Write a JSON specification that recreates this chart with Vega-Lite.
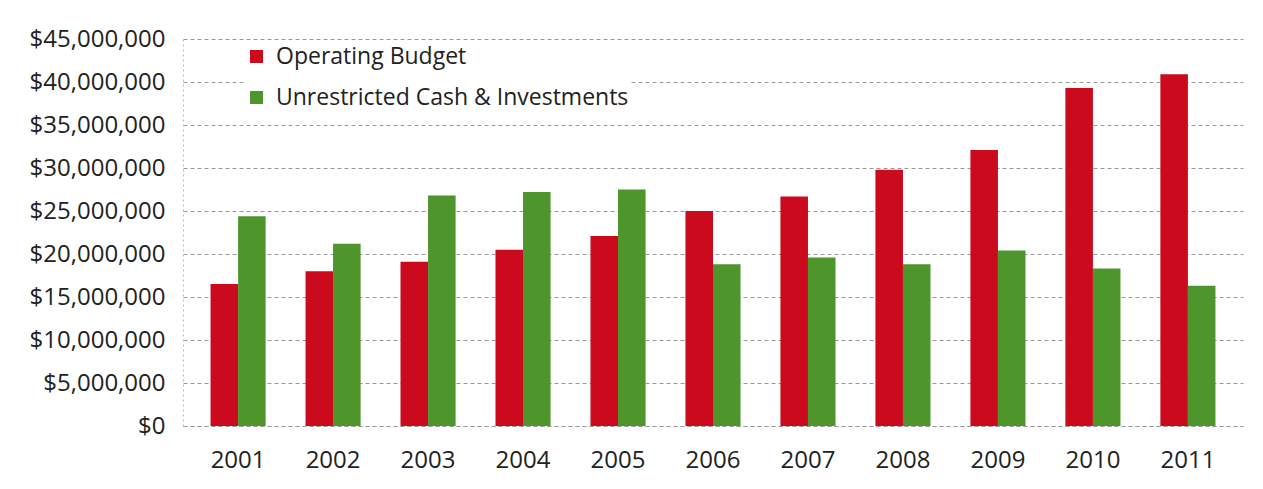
{
  "$schema": "https://vega.github.io/schema/vega-lite/v6.json",
  "width": 1060,
  "height": 387,
  "autosize": {"type": "none"},
  "padding": {"left": 183, "top": 39, "right": 20, "bottom": 63},
  "background": "white",
  "config": {"view": {"stroke": null}, "font": "Open Sans"},
  "data": {
    "values": [
      {"year": "2001", "series": "Operating Budget", "value": 16500000},
      {"year": "2001", "series": "Unrestricted Cash & Investments", "value": 24400000},
      {"year": "2002", "series": "Operating Budget", "value": 18000000},
      {"year": "2002", "series": "Unrestricted Cash & Investments", "value": 21200000},
      {"year": "2003", "series": "Operating Budget", "value": 19100000},
      {"year": "2003", "series": "Unrestricted Cash & Investments", "value": 26800000},
      {"year": "2004", "series": "Operating Budget", "value": 20500000},
      {"year": "2004", "series": "Unrestricted Cash & Investments", "value": 27200000},
      {"year": "2005", "series": "Operating Budget", "value": 22100000},
      {"year": "2005", "series": "Unrestricted Cash & Investments", "value": 27500000},
      {"year": "2006", "series": "Operating Budget", "value": 25000000},
      {"year": "2006", "series": "Unrestricted Cash & Investments", "value": 18800000},
      {"year": "2007", "series": "Operating Budget", "value": 26700000},
      {"year": "2007", "series": "Unrestricted Cash & Investments", "value": 19600000},
      {"year": "2008", "series": "Operating Budget", "value": 29800000},
      {"year": "2008", "series": "Unrestricted Cash & Investments", "value": 18800000},
      {"year": "2009", "series": "Operating Budget", "value": 32100000},
      {"year": "2009", "series": "Unrestricted Cash & Investments", "value": 20400000},
      {"year": "2010", "series": "Operating Budget", "value": 39300000},
      {"year": "2010", "series": "Unrestricted Cash & Investments", "value": 18300000},
      {"year": "2011", "series": "Operating Budget", "value": 40900000},
      {"year": "2011", "series": "Unrestricted Cash & Investments", "value": 16300000}
    ]
  },
  "mark": {"type": "bar"},
  "encoding": {
    "x": {
      "field": "year",
      "type": "nominal",
      "title": null,
      "scale": {"paddingInner": 0.42, "paddingOuter": 0.29},
      "axis": {
        "labelAngle": 0,
        "labelFontSize": 24,
        "labelColor": "#222",
        "labelPadding": 22,
        "ticks": false,
        "domain": true,
        "domainColor": "#999",
        "domainDash": [4, 3],
        "grid": false
      }
    },
    "xOffset": {"field": "series", "type": "nominal", "sort": ["Operating Budget", "Unrestricted Cash & Investments"]},
    "y": {
      "field": "value",
      "type": "quantitative",
      "title": null,
      "scale": {"domain": [0, 45000000], "nice": false},
      "axis": {
        "values": [0, 5000000, 10000000, 15000000, 20000000, 25000000, 30000000, 35000000, 40000000, 45000000],
        "format": "$,.0f",
        "labelFontSize": 24,
        "labelColor": "#222",
        "labelPadding": 18,
        "labelLimit": 300,
        "ticks": false,
        "domain": true,
        "domainColor": "#bbb",
        "domainDash": [2, 3],
        "grid": true,
        "gridColor": "#999",
        "gridDash": [4, 3],
        "gridWidth": 1
      }
    },
    "color": {
      "field": "series",
      "type": "nominal",
      "sort": ["Operating Budget", "Unrestricted Cash & Investments"],
      "scale": {"domain": ["Operating Budget", "Unrestricted Cash & Investments"], "range": ["#CC0A1E", "#4E952C"]},
      "legend": {
        "title": null,
        "orient": "none",
        "legendX": 62,
        "legendY": 6,
        "symbolType": "square",
        "symbolSize": 169,
        "symbolStrokeWidth": 0,
        "labelFontSize": 23,
        "labelLimit": 600,
        "labelColor": "#222",
        "rowPadding": 17,
        "labelOffset": 8,
        "fillColor": "white"
      }
    }
  }
}
